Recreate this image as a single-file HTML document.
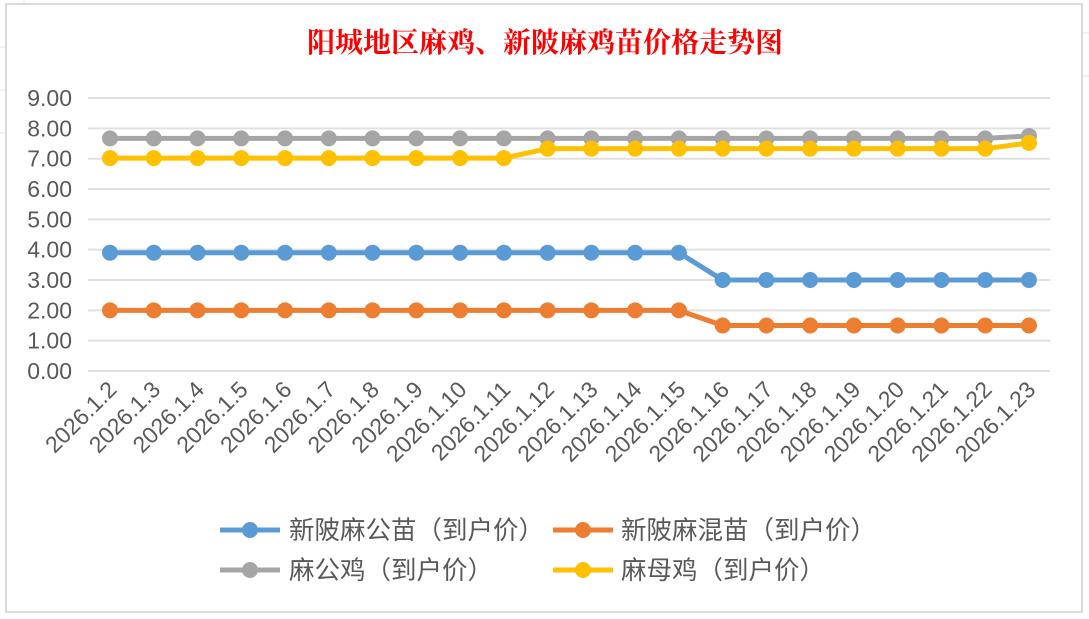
<!DOCTYPE html><html><head><meta charset="utf-8"><style>body{margin:0;background:#fff}</style></head><body>
<svg width="1089" height="614" xmlns="http://www.w3.org/2000/svg" font-family="Liberation Sans, Noto Sans CJK SC, sans-serif">
<g stroke="#e2e2e2" stroke-width="1">
<line x1="0" y1="47" x2="6" y2="47"/><line x1="0" y1="90" x2="6" y2="90"/><line x1="0" y1="133" x2="6" y2="133"/><line x1="1082" y1="33" x2="1089" y2="33"/><line x1="1082" y1="76" x2="1089" y2="76"/><line x1="24" y1="0" x2="24" y2="4"/>
</g>
<rect x="6" y="4" width="1076" height="608" fill="#fff" stroke="#d9d9d9" stroke-width="2"/>
<text x="545" y="52" text-anchor="middle" font-size="28" font-weight="bold" fill="#ff0000" font-family="Liberation Serif, Noto Serif CJK SC, serif">阳城地区麻鸡、新陂麻鸡苗价格走势图</text>
<g id="grid" stroke="#e0e0e0" stroke-width="2"></g>
<g id="yl" font-size="23" fill="#595959" text-anchor="end"></g>
<g id="xl" font-size="23" fill="#595959" text-anchor="end"></g>
<g id="series"></g>
<g font-size="25.5" fill="#595959">
<line x1="220" y1="530" x2="280" y2="530" stroke="#5b9bd5" stroke-width="5"/><circle cx="250" cy="530" r="8" fill="#5b9bd5"/><text x="289" y="539">新陂麻公苗（到户价）</text>
<line x1="553" y1="530" x2="613" y2="530" stroke="#ed7d31" stroke-width="5"/><circle cx="583" cy="530" r="8" fill="#ed7d31"/><text x="621" y="539">新陂麻混苗（到户价）</text>
<line x1="220" y1="570" x2="280" y2="570" stroke="#a5a5a5" stroke-width="5"/><circle cx="250" cy="570" r="8" fill="#a5a5a5"/><text x="289" y="579">麻公鸡（到户价）</text>
<line x1="553" y1="570" x2="613" y2="570" stroke="#ffc000" stroke-width="5"/><circle cx="583" cy="570" r="8" fill="#ffc000"/><text x="621" y="579">麻母鸡（到户价）</text>
</g>
</svg>
<script>
const ns="http://www.w3.org/2000/svg";
function el(p,t,a,txt){const e=document.createElementNS(ns,t);for(const k in a)e.setAttribute(k,a[k]);if(txt)e.textContent=txt;document.getElementById(p).appendChild(e);}
const Y=v=>371-v*30.33;
for(let i=0;i<=9;i++){el('grid','line',{x1:88,x2:1050,y1:Y(i),y2:Y(i)});el('yl','text',{x:72,y:Y(i)+8},i.toFixed(2));}
const X=i=>110+i*43.76;
for(let i=0;i<22;i++){const x=X(i)+8,y=391;el('xl','text',{x:x,y:y,transform:`rotate(-45 ${x} ${y})`},'2026.1.'+(i+2));}
const S=[
["#a5a5a5",i=>i==21?7.75:7.67],
["#ffc000",i=>i==21?7.52:(i>=10?7.33:7.02)],
["#5b9bd5",i=>i>=14?3.0:3.9],
["#ed7d31",i=>i>=14?1.5:2.0]];
for(const [c,f] of S){let pts=[];for(let i=0;i<22;i++)pts.push(X(i)+','+Y(f(i)));
el('series','polyline',{points:pts.join(' '),fill:'none',stroke:c,'stroke-width':5,'stroke-linejoin':'round'});
for(let i=0;i<22;i++)el('series','circle',{cx:X(i),cy:Y(f(i)),r:8,fill:c});}
</script>
</body></html>
